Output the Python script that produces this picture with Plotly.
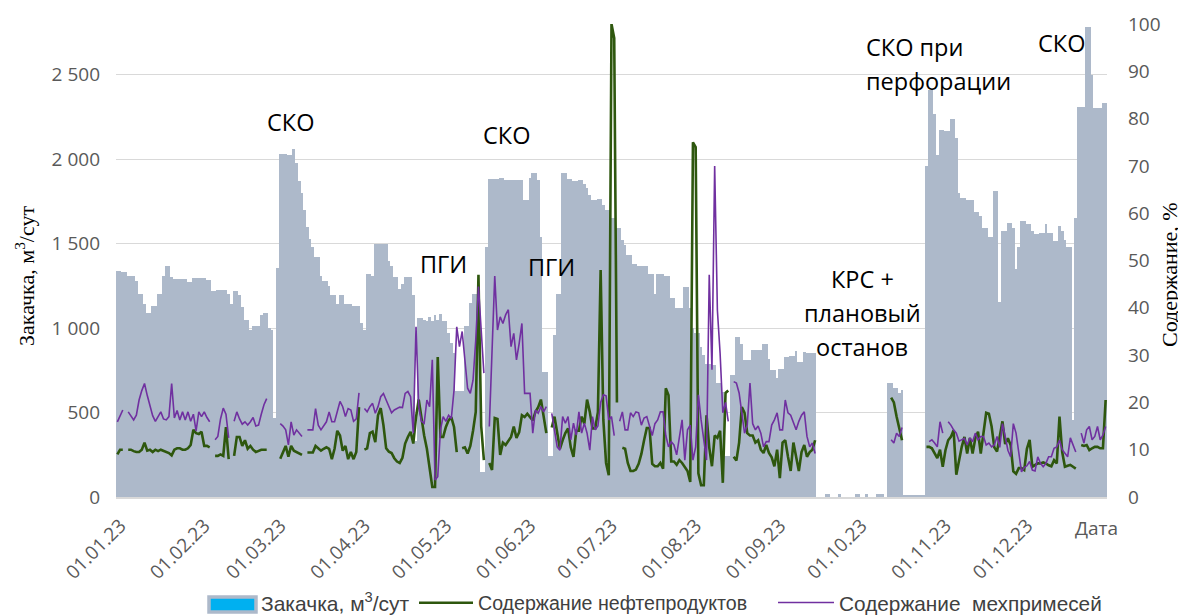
import plotly.graph_objects as go
import pandas as pd

# ---------------- data ----------------
dates = pd.date_range("2023-01-01", "2023-12-31", freq="D")

injection = [
    1340, 1340, 1330, 1330, 1310, 1310, 1310, 1280, 1200, 1200,
    1140, 1090, 1090, 1130, 1130, 1200, 1200, 1310, 1370, 1370,
    1300, 1290, 1290, 1290, 1290, 1290, 1270, 1270, 1295, 1295,
    1295, 1295, 1295, 1285, 1285, 1220, 1220, 1225, 1225, 1225,
    1225, 1200, 1140, 1220, 1220, 1195, 1125, 1050, 1050, 990,
    1010, 1010, 1010, 1080, 1090, 1090, 1000, 990, 470, 1355,
    2030, 2030, 2030, 2025, 2025, 2060, 1980, 1870, 1800, 1700,
    1600, 1530, 1480, 1420, 1420, 1310, 1280, 1280, 1250, 1195,
    1195, 1140, 1195, 1195, 1145, 1145, 1145, 1130, 1130, 1130,
    1030, 990, 1320, 1320, 1310, 1500, 1500, 1500, 1500, 1500,
    1400, 1370, 1300, 1300, 1230, 1260, 1300, 1300, 1300, 1195,
    330, 1060, 1060, 1045, 1040, 1065, 1040, 1075, 1050, 1085,
    1040, 1040, 970, 910, 850, 630, 630, 630, 1010, 1010,
    1150, 1200, 1200, 1245, 150, 150, 1480, 1885, 1885, 1885,
    1885, 1890, 1890, 1875, 1875, 1875, 1875, 1875, 1875, 1875,
    1760, 1760, 1890, 1920, 1920, 1875, 1540, 740, 740, 240,
    240, 960, 1200, 1200, 1920, 1920, 1885, 1885, 1870, 1870,
    1875, 1875, 1855, 1830, 1790, 1760, 1760, 1765, 1765, 1730,
    1700, 1700, 1650, 1650, 1590, 1590, 1520, 1490, 1430, 1430,
    1380, 1380, 1370, 1370, 1370, 1370, 1320, 1320, 1200, 1320,
    1320, 1320, 1310, 1310, 1180, 1180, 1120, 1120, 1120, 1245,
    1245, 1120, 1000, 970, 970, 890, 840, 790, 790, 780,
    780, 675, 675, 620, 240, 240, 720, 720, 950, 950,
    905, 810, 810, 810, 870, 870, 870, 870, 905, 905,
    815, 750, 750, 705, 760, 760, 830, 830, 835, 835,
    865, 800, 800, 860, 855, 855, 855, 855, 0, 0,
    0, 15, 15, 0, 0, 0, 15, 0, 0, 0,
    0, 0, 15, 15, 0, 0, 15, 0, 0, 0,
    15, 15, 15, 0, 675, 675, 645, 645, 615, 635,
    12, 12, 12, 12, 12, 12, 12, 12, 1960, 2410,
    2410, 2270, 2025, 2175, 2175, 2165, 2165, 2235, 2235, 2125,
    1800, 1770, 1770, 1760, 1760, 1760, 1690, 1690, 1665, 1590,
    1590, 1540, 1540, 1810, 1810, 1155, 1575, 1575, 1620, 1620,
    1590, 1350, 1480, 1635, 1635, 1615, 1615, 1575, 1555, 1555,
    1560, 1560, 1615, 1560, 1560, 1515, 1515, 1605, 1575, 1520,
    1480, 1480, 455, 1650, 2310, 2310, 2310, 2785, 2785, 2500,
    2300, 2300, 2300, 2335, 2335,
]

N = None
oil_products = [
    9.0, 10, 10, N, 10, 10, 9.7, 9.5, 9.5, 10,
    11.5, 9.8, 10, 9.5, 10, 9.7, 10, 9.8, 9.5, 9.3,
    8.8, 10, 10.3, 10.3, 10, 10, 10.3, 11, 14.2, 13.5,
    13.3, 13.8, 10.8, 10.8, 10.5, N, 8.7, 8.7, 9, 8.7,
    14.8, 8, N, 8.7, 12.7, 12.7, 10.8, 12, 10.2, 10.8,
    10, 9.5, 9.7, 10, 10, 10, N, N, N, N,
    8.1, 9.5, 10.8, 8.5, 10.8, 9.8, 9.5, 9.2, 8.9, N,
    9.4, 9.4, 9.4, 10.8, 10.2, 9.8, 10.2, 10.5, 10.2, 8.0,
    10.2, 14, 13, 9.8, 10.8, 8, 9.5, 8, 9.5, 19,
    N, 10, 10.3, 13.5, 13.8, 11.6, 17.3, 18.8, 15.2, 10.3,
    9.6, 9.3, 8.2, 7.5, 7.2, 8.3, 11.3, 12.7, 13.8, 11.3,
    16.9, 20.6, 16.2, 13, 10.2, 5.7, 2.1, 2.1, 29.6, 12.7,
    12.7, 14.8, 16.2, 16.9, 14.8, 9.5, N, 10.3, 10.5, 9.2,
    10.8, 14, 18, 47, 15, 7.8, N, 7.2, 5.7, 16.7,
    16.5, 8.9, 11.5, 11, 12, 12.7, 14.9, 12.5, 13.7, 17.3,
    16.9, 17.6, 16.9, 16.2, 18, 19, 20.6, 16.5, 13.5, N,
    14.7, 17, 13.6, 10.2, 12, 13.5, 14.5, 10.5, 8.5, 14,
    14, 17, 15.5, 20.6, 18, 14.5, 14.5, 18, 48, 16.3,
    7.2, 4.6, 100, 97, 20, N, 10.4, 10.2, 7.2, 5.5,
    5.5, 5.8, 7, 9.1, 12, 14.6, 14.6, 7, 6.5, 6.5,
    7.2, 6, 23, 21.5, 7.5, 7.5, 6.8, 7.8, 7.2, 6.2,
    5.5, 3.2, 75, 74, 5, 2.5, 2.5, 17.3, 10.5, 6.5,
    13, 12.5, 14, 3, 22, 22.5, N, 8.5, 7.7, 11.5,
    19, 17.8, 13.5, 13, 13, 11.5, 12, 10, 9.3, 11,
    9.3, 8.4, 6.5, 10, 4, 11.5, 12, 8.5, 5.5, 11.5,
    8.5, 5.5, 9.5, 11, 8.5, 9.5, 10, 12, N, N,
    N, N, N, N, N, N, N, N, N, N,
    N, N, N, N, N, N, N, N, N, N,
    N, N, N, N, N, 21, 20, 17, 14.5, 12,
    N, N, N, N, N, N, N, N, 10.6, 10.6,
    10.3, 9.3, 8.2, 10.0, 6.4, 9.9, 12.0, 12.7, 14.1, 4.7,
    8.0, 10.6, 12.7, 9.2, 12.5, 9.2, 12.4, 13.8, 9.2, 13.8,
    17.8, 17.6, 14.9, 10.5, 9.6, 12.8, 16.0, 11.2, 12.4, 11.0,
    5.4, 4.9, 6.1, 6.1, 5.7, 10.2, 12.1, 6.4, 6.8, 7.1,
    7.1, 7.3, 7.1, 6.7, 6.5, 7.8, 7.1, 17, 9.5, 6.4,
    6.6, 6.8, 6.4, 6.0, N, 11.0, 10.8, 11.0, 9.9, 10.3,
    10.6, 10.6, 10.3, 10.3, 20.5,
]

solids = [
    15.9, 17, 18.4, N, 18, 17, 16.3, 17.3, 20.5, 22.5,
    24, 21.5, 19, 17.2, 16, 17, 18, 16.5, 16.3, 17,
    24, 16.7, 18.3, 16.3, 18, 16.3, 18, 16, 17.5, 14,
    18, 17, 18, 16.8, 15.9, N, 12.1, 12.8, 16.5, 18.8,
    17.5, 12.5, N, 16, 18, 16.5, 15.4, 15.9, 15.2, 15.9,
    16.8, 15, 15.2, 17.5, 19.5, 20.8, N, N, N, N,
    15.5, 15, 14.2, 11, 15.9, 13.1, 14.2, 13.5, 12.8, N,
    14.2, 14.2, 14.2, 18.7, 15.2, 14.2, 15.2, 15.9, 18, 15.9,
    15.9, 18.4, 20.2, 19.1, 17, 18.7, 18.4, 16, 16.5, 22,
    N, 18.7, 18, 19.1, 19.8, 17.7, 19.1, 21.2, 21.9, 20.5,
    19.1, 17.8, 18.4, 18.7, 19, 18.9, 21.9, 22.3, 21.2, 13.5,
    36, 19.1, 16, 15.6, 20.5, 19.1, 29, 3.6, 4.3, 14.2,
    17, 16, 17.3, 16.6, 22.6, 36, 31.8, 35, 28.3, 23,
    21.9, 24.7, 33.2, 44.5, 35.3, 26.2, N, 14.9, 33.2, 46.7,
    35.3, 38.1, 36.7, 38.5, 39.6, 31.8, 34.6, 29, 32.5, 36.7,
    21.9, 21.9, 21.9, 13.5, 18.4, 17.7, 19.1, 18, 19.1, N,
    17.7, 14.2, 10.6, 9.9, 17, 15.6, 17, 12.1, 15.6, 13.1,
    18, 13.5, 15.6, 13.5, 9.9, 17, 14.2, 15, 20, 21.6,
    21.4, 16.3, 17, 13, N, 16, 18, 14.2, 14.2, 17.8,
    17, 18, 17.8, 15.2, 16.7, 17, 15.2, 13, 15.5, 16.3,
    18, 18, 13, 10.6, 11.7, 11, 8.9, 12.5, 16.3, 7.8,
    14.2, 15.2, 7.8, 10.6, 21.6, 16.3, 11.7, 7.8, 47, 26.9,
    70, 39.5, 30.4, 17.8, 20, 16, N, 24.4, 24.1, 22,
    17.8, 13.5, 15.2, 24.1, 15.5, 14.2, 15, 13.5, 10.6, 11.7,
    11.7, 15.2, 16.3, 17.8, 14.2, 14.2, 20.5, 17.8, 17.3, 15.5,
    14.2, 16, 17.3, 18, 12.8, 10.6, 11.4, 9.2, N, N,
    N, N, N, N, N, N, N, N, N, N,
    N, N, N, N, N, N, N, N, N, N,
    N, N, N, N, N, 12.1, 11.4, 13.5, 12.8, 14.7,
    N, N, N, N, N, N, N, N, N, 11.7,
    12.1, 11.4, 10.6, 15.9, 13.5, N, 15.9, 15.2, 14.2, 13.5,
    11.8, 12.1, 12.4, 11, 12.5, 11.7, 13.5, 12.1, 12.8, 12.8,
    11, 11.4, 10.6, 11, 12.8, 10.5, 15.5, 12.8, 9.9, 8.5,
    15.5, 13.5, 9.2, 5.3, 6.2, 6.6, 7.5, 5.7, 5.5, 8.5,
    7.1, 6.4, 7.1, 8.5, 8.5, 10.3, 10.6, 12, 10, 9.2,
    8.5, 12.5, 11, 9.5, N, 13.5, 11.4, 14.2, 14.9, 12.1,
    12.8, 14.9, 12.1, 13.1, 14.9,
]

tick_dates = ["2023-01-01", "2023-02-01", "2023-03-01", "2023-04-01",
              "2023-05-01", "2023-06-01", "2023-07-01", "2023-08-01",
              "2023-09-01", "2023-10-01", "2023-11-01", "2023-12-01"]
tick_labels = ["01.01.23", "01.02.23", "01.03.23", "01.04.23", "01.05.23",
               "01.06.23", "01.07.23", "01.08.23", "01.09.23", "01.10.23",
               "01.11.23", "01.12.23"]
left_ticks = [0, 500, 1000, 1500, 2000, 2500]
right_ticks = [0, 10, 20, 30, 40, 50, 60, 70, 80, 90, 100]

assert len(injection) == len(dates) == len(oil_products) == len(solids)

# ---------------- layout helpers ----------------
# The page body adds an 8px offset, so the figure is 8px smaller than the window
OFF = 8
W, H = 1186 - OFF, 615 - OFF
PLOT_L, PLOT_R, PLOT_T, PLOT_B = 116, 1107, 24, 497   # target plot area in window pixels
ML, MT = PLOT_L - OFF, PLOT_T - OFF
MR = W - (PLOT_R - OFF)
MB = H - (PLOT_B - OFF)


def px(x, y):
    """window pixel -> paper coordinates"""
    return (x - PLOT_L) / (PLOT_R - PLOT_L), (PLOT_B - y) / (PLOT_B - PLOT_T)


fig = go.Figure()
fig.add_trace(go.Bar(x=dates, y=injection, marker=dict(color="#ADB9CA", line=dict(width=0)),
                     showlegend=False, name="Закачка"))
# legend entry for the injection series (its wide swatch is drawn as a shape below)
fig.add_trace(go.Bar(x=[None], y=[None], name="Закачка, м<sup>3</sup>/сут", legend="legend",
                     marker=dict(color="rgba(0,0,0,0)", line=dict(width=0))))
fig.add_trace(go.Scatter(x=dates, y=oil_products, mode="lines", yaxis="y2", legend="legend2",
                         name="Содержание нефтепродуктов", connectgaps=False,
                         line=dict(color="#2E570E", width=2.6)))
fig.add_trace(go.Scatter(x=dates, y=solids, mode="lines", yaxis="y2", legend="legend3",
                         name="Содержание  мехпримесей", connectgaps=False,
                         line=dict(color="#7030A0", width=1.6)))

tick_font = dict(family="Open Sans, Liberation Sans, sans-serif", size=19, color="#595959")

annotations = []


def label(text, x, y, size=23.5, xanchor="center", color="black", family="Open Sans, sans-serif", angle=0):
    ax, ay = px(x, y)
    annotations.append(dict(text=text, x=ax, y=ay, xref="paper", yref="paper", showarrow=False,
                            xanchor=xanchor, yanchor="middle", textangle=angle,
                            font=dict(family=family, size=size, color=color)))


label("СКО", 290, 122)
label("СКО", 506, 135)
label("ПГИ", 443, 264)
label("ПГИ", 551, 267)
label("КРС +", 862, 279)
label("плановый", 862, 313)
label("останов", 862, 347)
label("СКО при", 864, 47, xanchor="left")
label("перфорации", 864, 81, xanchor="left")
label("СКО", 1061, 43)
label("Дата", 1096, 528, size=19, color="#595959")
label("Закачка, м<sup>3</sup>/сут", 25, 276, size=22, family="Liberation Serif, serif", angle=-90)
label("Содержание, %", 1169, 275, size=22, family="Liberation Serif, serif", angle=-90)


def legend_at(text_left_px, item_w, size):
    # horizontal position chosen so that the entry text starts at text_left_px (window pixels)
    return dict(orientation="h", xref="container", yref="container",
                x=(text_left_px - item_w - 11 - OFF) / W, y=1 - (603 - OFF) / H,
                xanchor="left", yanchor="middle", itemwidth=item_w,
                font=dict(family="Liberation Sans, sans-serif", size=size, color="#404040"),
                bgcolor="rgba(0,0,0,0)")


# wide legend swatch of the injection series (cyan fill with grey border)
sx0, sy0 = px(209, 612)
sx1, sy1 = px(256, 597)
shapes = [dict(type="rect", xref="paper", yref="paper", x0=sx0, x1=sx1, y0=sy0, y1=sy1,
               fillcolor="#00B0F0", line=dict(color="#ADB9CA", width=3.5), layer="above")]

fig.update_layout(
    width=W, height=H,
    margin=dict(l=ML, r=MR, t=MT, b=MB, pad=0),
    paper_bgcolor="white", plot_bgcolor="white",
    separators=", ",
    barmode="overlay", bargap=0,
    xaxis=dict(type="date", range=["2022-12-31 12:00", "2023-12-31 12:00"],
               tickvals=tick_dates, ticktext=tick_labels, tickangle=-45,
               tickfont=dict(family="Open Sans, sans-serif", size=19, color="#595959"),
               showgrid=False, zeroline=False, automargin=False,
               showline=True, linecolor="#D9D9D9", linewidth=2, ticks="",
               ticklabelshift=3, ticklabelstandoff=8),
    yaxis=dict(range=[0, 2800], tickvals=left_ticks, tickfont=tick_font,
               separatethousands=True, automargin=False,
               showgrid=True, gridcolor="#D9D9D9", gridwidth=1.2,
               zeroline=False, showline=False, ticks="", ticklabelstandoff=15),
    yaxis2=dict(range=[0, 100.01], tickvals=right_ticks, tickfont=tick_font,
                overlaying="y", side="right", showgrid=False, zeroline=False,
                automargin=False, showline=False, ticks="", ticklabelstandoff=20),
    legend=legend_at(262, 40, 21),
    legend2=legend_at(479, 54, 19.6),
    legend3=legend_at(840, 56, 20.8),
    shapes=shapes,
    annotations=annotations,
)

fig.write_html("out.html")
